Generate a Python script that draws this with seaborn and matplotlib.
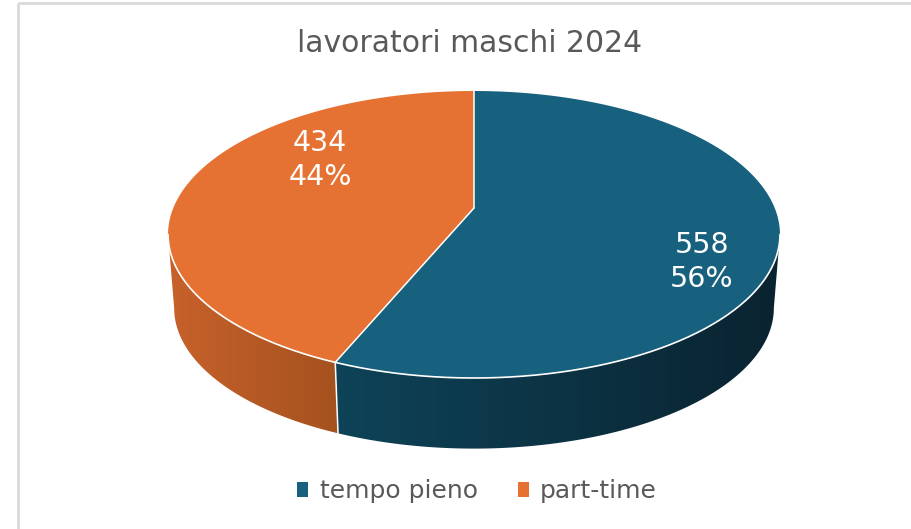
import numpy as np
import matplotlib
matplotlib.use('Agg')
import matplotlib.pyplot as plt
from matplotlib.patches import Polygon, Rectangle, Patch
import seaborn as sns

# ---------------------------------------------------------------------------------------------------------------------
# Data
# ---------------------------------------------------------------------------------------------------------------------
categories = ['tempo pieno', 'part-time']
values = [558, 434]
top_colors = ['#17607E', '#E57232']
side_left = ['#0E4358', '#C7612B']
side_right = ['#0A2330', '#A5521F']
label_pos = [(702, 262), (320, 160)]

sns.set_style('white')
plt.rcParams['font.family'] = ['DejaVu Sans']

# 3D disk seen in perspective (pixel coords, y downwards)
cx, cy = 474, 208
A, B, g = 300.7, 138.6, 0.1847
depth, shrink = 74, 0.98


def top_pt(t):
    u, v = np.cos(t), np.sin(t)
    w = 1 + g * v
    return cx + A * u / w, cy - B * v / w


def bot_pt(t):
    u, v = np.cos(t), np.sin(t)
    w = 1 + g * v
    return cx + shrink * A * u / w, cy + depth - shrink * B * v / w


fig = plt.figure(figsize=(9.12, 5.29), dpi=100)
ax = fig.add_axes([0, 0, 1, 1])
ax.set_xlim(0, 912)
ax.set_ylim(529, 0)
ax.axis('off')

# chart frame
ax.add_patch(Rectangle((18, 3), 920, 540, fill=False, edgecolor='#D9D9D9', lw=2))

# wedge angles: start at 12 o'clock, clockwise
fracs = np.array(values) / sum(values)
starts = []
ang = 90.0
for f in fracs:
    starts.append((ang, ang - 360 * f))
    ang -= 360 * f

# visible part of the side wall
edge = np.degrees(np.arcsin(g))
vis_lo, vis_hi = -180 + edge, -edge

for i, (t0, t1) in enumerate(starts):
    lo, hi = min(t0, t1), max(t0, t1)
    for shift in (0, -360, 360):
        l2, h2 = max(lo + shift, vis_lo), min(hi + shift, vis_hi)
        if h2 > l2:
            ts = np.radians(np.linspace(l2, h2, 150))
            pts = [top_pt(t) for t in ts] + [bot_pt(t) for t in ts[::-1]]
            poly = Polygon(pts, closed=True, facecolor='none', edgecolor='none')
            ax.add_patch(poly)
            xs = [p[0] for p in pts]
            ys = [p[1] for p in pts]
            c0 = np.array(matplotlib.colors.to_rgb(side_left[i]))
            c1 = np.array(matplotlib.colors.to_rgb(side_right[i]))
            grad = np.linspace(0, 1, 256)[None, :, None]
            img = c0 + (c1 - c0) * grad
            im = ax.imshow(img, extent=(min(xs), max(xs), max(ys), min(ys)), aspect='auto',
                           interpolation='bilinear', zorder=1)
            im.set_clip_path(poly)

# top face
for i, (t0, t1) in enumerate(starts):
    ts = np.radians(np.linspace(t0, t1, 240))
    pts = [(cx, cy)] + [top_pt(t) for t in ts]
    ax.add_patch(Polygon(pts, closed=True, facecolor=top_colors[i], edgecolor='none', zorder=2))

# white edges
ts = np.radians(np.linspace(vis_lo, vis_hi, 240))
ax.plot([top_pt(t)[0] for t in ts], [top_pt(t)[1] for t in ts], color='white', lw=1.2, zorder=3)
for t0, _ in starts:
    x, y = top_pt(np.radians(t0))
    ax.plot([cx, x], [cy, y], color='white', lw=1.1, zorder=3)
    if np.sin(np.radians(t0)) < 0:
        xb, yb = bot_pt(np.radians(t0))
        ax.plot([x, xb], [y, yb], color='white', lw=1.1, zorder=3)

# data labels
for i, (x, y) in enumerate(label_pos):
    ax.text(x, y, f'{values[i]}\n{fracs[i] * 100:.0f}%', color='white', fontsize=20.5,
            ha='center', va='center', linespacing=1.3, zorder=4)

ax.text(470, 52, 'lavoratori maschi 2024', fontsize=21.5, color='#595959',
        ha='center', va='baseline')

handles = [Patch(facecolor=c, edgecolor='none') for c in top_colors]
ax.legend(handles, categories, loc='center', bbox_to_anchor=(477 / 912, 1 - 491 / 529),
          ncol=2, frameon=False, handlelength=0.45, handleheight=0.55, handletextpad=0.45,
          columnspacing=1.6, prop={'size': 18}, labelcolor='#595959')

fig.savefig('out.png', dpi=100)
